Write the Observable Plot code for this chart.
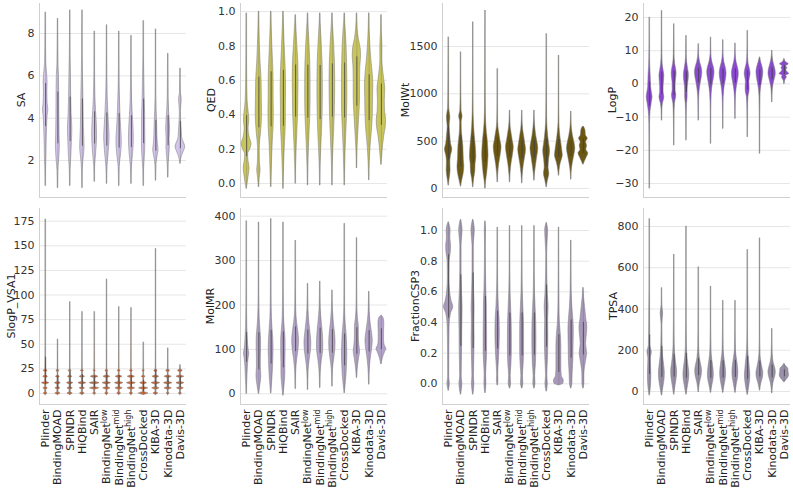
<!DOCTYPE html>
<html><head><meta charset="utf-8">
<script src="https://cdn.jsdelivr.net/npm/d3@7"></script>
<script src="https://cdn.jsdelivr.net/npm/@observablehq/plot@0.6"></script>
<style>
body{margin:0;background:#fff;width:793px;height:489px;position:relative;overflow:hidden;font-family:"DejaVu Sans",sans-serif}
.panel{position:absolute}
</style></head><body>
<div id="c"></div>
<script>
const datasetLabels = ["Plinder","BindingMOAD","SPINDR","HiQBind","SAIR","BindingNet|low","BindingNet|mid","BindingNet|high","CrossDocked","KIBA-3D","Kinodata-3D","Davis-3D"];

// violin profiles: [value, relative half-width]
const saViolins = [
 [[0.8,0.02],[1.5,0.06],[2.2,0.15],[3.0,0.22],[3.6,0.3],[4.1,0.4],[4.4,0.55],[4.7,0.4],[5.2,0.35],[5.7,0.4],[6.1,0.3],[6.6,0.12],[7.5,0.06],[8.5,0.03],[9.0,0.01]],
 [[0.7,0.02],[1.5,0.08],[2.0,0.25],[2.7,0.4],[3.2,0.35],[4.0,0.3],[5.0,0.28],[6.0,0.22],[6.5,0.1],[7.5,0.05],[8.7,0.01]],
 [[0.8,0.02],[1.6,0.08],[2.2,0.25],[2.8,0.35],[3.5,0.45],[4.2,0.3],[5.0,0.22],[6.0,0.15],[7.0,0.06],[8.0,0.03],[9.1,0.01]],
 [[0.7,0.02],[1.6,0.08],[2.2,0.3],[2.6,0.45],[3.0,0.4],[3.6,0.3],[4.4,0.25],[5.2,0.2],[6.0,0.12],[7.0,0.05],[8.0,0.03],[9.1,0.01]],
 [[1.0,0.02],[1.7,0.08],[2.3,0.3],[2.8,0.45],[3.2,0.5],[3.7,0.45],[4.3,0.3],[5.0,0.15],[6.0,0.06],[7.0,0.03],[8.1,0.01]],
 [[0.9,0.02],[1.7,0.1],[2.3,0.35],[2.8,0.5],[3.1,0.55],[3.6,0.45],[4.2,0.3],[5.0,0.15],[6.0,0.06],[7.0,0.03],[8.4,0.01]],
 [[0.8,0.02],[1.7,0.1],[2.3,0.4],[2.9,0.55],[3.4,0.45],[4.0,0.3],[4.8,0.18],[5.6,0.08],[6.5,0.04],[8.1,0.01]],
 [[0.9,0.02],[1.7,0.1],[2.3,0.35],[3.0,0.5],[3.5,0.45],[4.1,0.3],[4.8,0.15],[5.6,0.07],[6.5,0.03],[7.9,0.01]],
 [[0.8,0.02],[1.6,0.08],[2.2,0.25],[2.8,0.35],[3.5,0.33],[4.2,0.3],[5.0,0.2],[6.0,0.12],[7.0,0.05],[8.6,0.01]],
 [[1.05,0.02],[1.8,0.1],[2.2,0.35],[2.5,0.55],[2.8,0.4],[3.2,0.3],[3.7,0.25],[4.3,0.15],[5.0,0.06],[6.0,0.03],[8.2,0.01]],
 [[1.2,0.02],[1.8,0.08],[2.3,0.25],[2.6,0.35],[3.0,0.3],[3.4,0.4],[3.8,0.35],[4.3,0.2],[5.0,0.08],[6.0,0.04],[7.05,0.01]],
 [[1.85,0.03],[2.2,0.3],[2.45,0.75],[2.65,1.0],[2.85,0.7],[3.1,0.35],[3.35,0.3],[3.7,0.2],[4.3,0.1],[4.9,0.28],[5.2,0.08],[5.8,0.04],[6.35,0.01]]
];
const qedViolins = [
 [[-0.03,0.02],[0.0,0.2],[0.05,0.45],[0.09,0.6],[0.13,0.4],[0.17,0.3],[0.2,0.75],[0.23,1.0],[0.27,0.6],[0.32,0.4],[0.37,0.55],[0.42,0.4],[0.48,0.2],[0.6,0.1],[0.8,0.05],[0.99,0.02]],
 [[-0.02,0.02],[0.03,0.15],[0.08,0.35],[0.12,0.2],[0.2,0.15],[0.3,0.45],[0.4,0.65],[0.5,0.6],[0.6,0.55],[0.7,0.35],[0.8,0.2],[0.9,0.1],[1.0,0.02]],
 [[-0.02,0.02],[0.05,0.1],[0.15,0.2],[0.25,0.35],[0.33,0.5],[0.42,0.55],[0.5,0.5],[0.6,0.5],[0.7,0.4],[0.8,0.25],[0.9,0.12],[1.0,0.02]],
 [[-0.03,0.02],[0.05,0.1],[0.15,0.2],[0.25,0.35],[0.35,0.5],[0.45,0.5],[0.55,0.55],[0.65,0.5],[0.75,0.35],[0.85,0.2],[0.93,0.1],[1.0,0.02]],
 [[0.0,0.02],[0.1,0.08],[0.2,0.2],[0.3,0.35],[0.4,0.5],[0.5,0.55],[0.6,0.6],[0.7,0.55],[0.8,0.35],[0.88,0.2],[0.94,0.08],[0.98,0.02]],
 [[-0.01,0.02],[0.1,0.08],[0.2,0.2],[0.3,0.35],[0.4,0.5],[0.5,0.55],[0.6,0.55],[0.7,0.5],[0.8,0.35],[0.88,0.2],[0.94,0.08],[0.99,0.02]],
 [[-0.01,0.02],[0.1,0.08],[0.2,0.22],[0.3,0.38],[0.4,0.5],[0.5,0.55],[0.6,0.55],[0.7,0.5],[0.8,0.35],[0.88,0.2],[0.94,0.08],[0.99,0.02]],
 [[-0.01,0.02],[0.1,0.08],[0.2,0.2],[0.3,0.35],[0.4,0.48],[0.5,0.55],[0.6,0.58],[0.7,0.52],[0.8,0.38],[0.88,0.22],[0.94,0.08],[0.99,0.02]],
 [[-0.01,0.02],[0.1,0.1],[0.2,0.2],[0.3,0.35],[0.4,0.5],[0.5,0.55],[0.6,0.55],[0.7,0.5],[0.8,0.4],[0.88,0.25],[0.94,0.1],[0.99,0.02]],
 [[0.09,0.02],[0.2,0.1],[0.3,0.3],[0.4,0.5],[0.5,0.65],[0.6,0.65],[0.68,0.7],[0.74,0.85],[0.78,0.8],[0.84,0.4],[0.9,0.15],[0.99,0.02]],
 [[0.02,0.02],[0.12,0.1],[0.22,0.3],[0.3,0.55],[0.4,0.75],[0.5,0.8],[0.57,0.85],[0.65,0.7],[0.72,0.45],[0.8,0.25],[0.9,0.08],[0.99,0.02]],
 [[0.11,0.02],[0.17,0.2],[0.22,0.35],[0.28,0.6],[0.33,0.9],[0.37,0.95],[0.42,0.75],[0.48,0.7],[0.55,0.8],[0.6,0.6],[0.66,0.35],[0.72,0.2],[0.8,0.22],[0.88,0.08],[0.98,0.02]]
];
const molWtViolins = [
 [[32,0.02],[100,0.2],[190,0.4],[280,0.35],[350,0.5],[412,0.75],[470,0.5],[550,0.35],[650,0.2],[753,0.35],[850,0.1],[1000,0.06],[1200,0.04],[1598,0.01]],
 [[21,0.02],[80,0.25],[150,0.55],[230,0.7],[300,0.6],[380,0.55],[450,0.5],[520,0.35],[600,0.2],[700,0.15],[760,0.35],[820,0.12],[1000,0.05],[1440,0.01]],
 [[14,0.02],[100,0.2],[180,0.45],[260,0.5],[330,0.65],[400,0.6],[470,0.5],[550,0.35],[650,0.2],[800,0.08],[1000,0.04],[1300,0.02],[1757,0.01]],
 [[0,0.02],[80,0.15],[150,0.35],[230,0.5],[300,0.6],[350,0.65],[420,0.6],[500,0.5],[600,0.3],[700,0.15],[900,0.06],[1200,0.03],[1880,0.01]],
 [[67,0.02],[150,0.1],[250,0.3],[330,0.55],[400,0.75],[440,0.8],[500,0.6],[580,0.35],[650,0.15],[750,0.06],[900,0.03],[1264,0.01]],
 [[67,0.02],[150,0.1],[250,0.3],[330,0.55],[400,0.75],[440,0.8],[500,0.6],[580,0.35],[650,0.15],[750,0.05],[824,0.01]],
 [[56,0.02],[150,0.12],[250,0.35],[330,0.6],[410,0.8],[470,0.65],[540,0.45],[620,0.2],[720,0.06],[824,0.01]],
 [[85,0.02],[160,0.12],[250,0.35],[340,0.6],[420,0.8],[480,0.65],[550,0.4],[630,0.2],[720,0.06],[824,0.01]],
 [[14,0.02],[80,0.25],[155,0.55],[220,0.4],[300,0.5],[400,0.7],[460,0.55],[540,0.35],[620,0.2],[750,0.08],[1000,0.04],[1300,0.02],[1633,0.01]],
 [[137,0.02],[200,0.15],[270,0.4],[320,0.7],[350,0.8],[400,0.7],[460,0.55],[530,0.35],[600,0.2],[700,0.07],[900,0.03],[1404,0.01]],
 [[95,0.02],[180,0.1],[270,0.35],[350,0.65],[420,0.85],[480,0.7],[550,0.4],[630,0.15],[720,0.05],[813,0.01]],
 [[253,0.05],[290,0.35],[330,0.7],[370,1.0],[410,0.6],[450,0.75],[490,0.55],[525,0.9],[565,0.5],[605,0.45],[635,0.3],[655,0.03]]
];
const logPViolins = [
 [[-31.5,0.01],[-20,0.03],[-12,0.06],[-8,0.2],[-5.5,0.45],[-4,0.6],[-2.5,0.45],[-1,0.3],[1,0.25],[3,0.2],[5,0.12],[8,0.06],[12,0.03],[20,0.01]],
 [[-11,0.02],[-8,0.06],[-6,0.2],[-4,0.5],[-2.5,0.35],[-1,0.35],[1,0.45],[2.5,0.5],[4,0.35],[6,0.15],[9,0.06],[14,0.03],[22,0.01]],
 [[-18.5,0.01],[-10,0.05],[-6,0.15],[-3.5,0.45],[-2,0.3],[0,0.3],[2,0.45],[3.2,0.5],[4.5,0.4],[6,0.2],[9,0.06],[13,0.03],[18,0.01]],
 [[-17,0.01],[-10,0.04],[-6,0.12],[-4,0.25],[-2,0.25],[0,0.35],[2,0.5],[3,0.5],[4.5,0.35],[6.5,0.15],[9,0.05],[14.5,0.01]],
 [[-11,0.02],[-5,0.06],[-2,0.2],[0,0.4],[2,0.65],[3.5,0.75],[5,0.6],[6.5,0.3],[8,0.12],[10,0.04],[12,0.01]],
 [[-18,0.01],[-8,0.04],[-3,0.15],[0,0.4],[2,0.65],[3.5,0.75],[5,0.6],[6.5,0.3],[8,0.12],[10,0.04],[14,0.01]],
 [[-13.5,0.01],[-6,0.05],[-2,0.2],[0,0.4],[2,0.65],[3.2,0.7],[4.8,0.55],[6.5,0.25],[8,0.1],[10,0.03],[13.2,0.01]],
 [[-10.5,0.01],[-5,0.06],[-2,0.2],[0,0.4],[2,0.65],[3.2,0.7],[4.8,0.55],[6.5,0.25],[8,0.1],[10,0.03],[12.2,0.01]],
 [[-16,0.01],[-8,0.05],[-4,0.15],[-2,0.4],[-1,0.4],[0.5,0.35],[2,0.5],[3,0.6],[4.5,0.45],[6,0.2],[8,0.08],[11,0.03],[16,0.01]],
 [[-21,0.01],[-10,0.03],[-4,0.08],[-1,0.25],[1,0.5],[2.5,0.65],[3.5,0.7],[5,0.55],[6.5,0.25],[8,0.02]],
 [[-5.5,0.02],[-2,0.1],[0,0.3],[1.5,0.55],[3,0.75],[4,0.7],[5.5,0.45],[7,0.2],[8.5,0.06],[10,0.01]],
 [[0,0.03],[1,0.15],[2,0.5],[2.5,0.35],[3,1.0],[3.6,0.6],[4.2,0.4],[4.7,0.6],[5.3,0.35],[5.9,0.9],[6.5,0.35],[7.5,0.03]]
];
const slogPViolins = [
 [[-1.5,0.02],[-0.6,0.28],[0,0.4],[0.6,0.28],[1.5,0.1],[3.8,0.1],[4.6,0.32],[5.2,0.45],[5.8,0.32],[6.7,0.1],[9,0.12],[9.9,0.52],[10.5,0.75],[11.1,0.52],[12,0.12],[15.5,0.1],[16.4,0.35],[17,0.5],[17.6,0.35],[18.5,0.1],[21.5,0.08],[22.4,0.28],[23,0.4],[23.6,0.28],[24.5,0.08],[30,0.06],[40,0.03],[60,0.02],[177,0.005]],
 [[-1.5,0.02],[-0.6,0.38],[0,0.55],[0.6,0.38],[1.5,0.1],[3.8,0.1],[4.6,0.35],[5.2,0.5],[5.8,0.35],[6.7,0.1],[9,0.1],[9.9,0.42],[10.5,0.6],[11.1,0.42],[12,0.1],[15.5,0.08],[16.4,0.28],[17,0.4],[17.6,0.28],[18.5,0.06],[21.5,0.05],[22.4,0.2],[23,0.3],[23.6,0.2],[24.5,0.04],[30,0.03],[40,0.02],[55,0.005]],
 [[-1.5,0.02],[-0.6,0.38],[0,0.55],[0.6,0.38],[1.5,0.1],[3.8,0.1],[4.6,0.38],[5.2,0.55],[5.8,0.38],[6.7,0.1],[9,0.1],[9.9,0.45],[10.5,0.65],[11.1,0.45],[12,0.1],[15.5,0.08],[16.4,0.32],[17,0.45],[17.6,0.32],[18.5,0.06],[21.5,0.05],[22.4,0.2],[23,0.3],[23.6,0.2],[24.5,0.04],[30,0.03],[45,0.02],[93,0.005]],
 [[-1.5,0.02],[-0.6,0.35],[0,0.5],[0.6,0.35],[1.5,0.1],[3.8,0.1],[4.6,0.38],[5.2,0.55],[5.8,0.38],[6.7,0.1],[9,0.1],[9.9,0.56],[10.5,0.8],[11.1,0.56],[12,0.1],[15.5,0.08],[16.4,0.38],[17,0.55],[17.6,0.38],[18.5,0.06],[21.5,0.05],[22.4,0.2],[23,0.3],[23.6,0.2],[24.5,0.04],[30,0.03],[45,0.02],[83,0.005]],
 [[-1.5,0.02],[-0.6,0.2],[0,0.3],[0.6,0.2],[1.5,0.08],[3.8,0.12],[4.6,0.66],[5.2,0.95],[5.8,0.66],[6.7,0.12],[9,0.12],[9.9,0.7],[10.5,1.0],[11.1,0.7],[12,0.12],[15.5,0.1],[16.4,0.56],[17,0.8],[17.6,0.56],[18.5,0.08],[21.5,0.05],[22.4,0.14],[23,0.2],[23.6,0.14],[24.5,0.04],[30,0.03],[45,0.02],[83,0.005]],
 [[-1.5,0.02],[-0.6,0.25],[0,0.35],[0.6,0.25],[1.5,0.08],[3.8,0.1],[4.6,0.52],[5.2,0.75],[5.8,0.52],[6.7,0.1],[9,0.12],[9.9,0.6],[10.5,0.85],[11.1,0.6],[12,0.12],[15.5,0.1],[16.4,0.5],[17,0.7],[17.6,0.5],[18.5,0.08],[21.5,0.05],[22.4,0.2],[23,0.3],[23.6,0.2],[24.5,0.04],[30,0.03],[45,0.02],[116,0.005]],
 [[-1.5,0.02],[-0.6,0.28],[0,0.4],[0.6,0.28],[1.5,0.08],[3.8,0.1],[4.6,0.52],[5.2,0.75],[5.8,0.52],[6.7,0.1],[9,0.12],[9.9,0.6],[10.5,0.85],[11.1,0.6],[12,0.12],[15.5,0.1],[16.4,0.5],[17,0.7],[17.6,0.5],[18.5,0.08],[21.5,0.05],[22.4,0.2],[23,0.3],[23.6,0.2],[24.5,0.04],[30,0.03],[45,0.02],[88,0.005]],
 [[-1.5,0.02],[-0.6,0.25],[0,0.35],[0.6,0.25],[1.5,0.08],[3.8,0.1],[4.6,0.56],[5.2,0.8],[5.8,0.56],[6.7,0.1],[9,0.12],[9.9,0.63],[10.5,0.9],[11.1,0.63],[12,0.12],[15.5,0.1],[16.4,0.52],[17,0.75],[17.6,0.52],[18.5,0.08],[21.5,0.05],[22.4,0.2],[23,0.3],[23.6,0.2],[24.5,0.04],[30,0.03],[45,0.02],[87,0.005]],
 [[-1.5,0.03],[-0.6,0.7],[0,1.0],[0.6,0.7],[1.5,0.15],[3.8,0.12],[4.6,0.66],[5.2,0.95],[5.8,0.66],[6.7,0.1],[9,0.1],[9.9,0.5],[10.5,0.7],[11.1,0.5],[12,0.08],[15.5,0.06],[16.4,0.28],[17,0.4],[17.6,0.28],[18.5,0.05],[21.5,0.04],[22.4,0.14],[23,0.2],[23.6,0.14],[24.5,0.03],[30,0.02],[52,0.005]],
 [[-1.5,0.02],[-0.6,0.35],[0,0.5],[0.6,0.35],[1.5,0.08],[3.8,0.1],[4.6,0.52],[5.2,0.75],[5.8,0.52],[6.7,0.1],[9,0.12],[9.9,0.6],[10.5,0.85],[11.1,0.6],[12,0.12],[15.5,0.1],[16.4,0.5],[17,0.7],[17.6,0.5],[18.5,0.08],[21.5,0.06],[22.4,0.25],[23,0.35],[23.6,0.25],[24.5,0.05],[30,0.03],[50,0.02],[147,0.005]],
 [[-1.5,0.02],[-0.6,0.2],[0,0.3],[0.6,0.2],[1.5,0.06],[3.8,0.1],[4.6,0.52],[5.2,0.75],[5.8,0.52],[6.7,0.1],[9,0.12],[9.9,0.6],[10.5,0.85],[11.1,0.6],[12,0.12],[15.5,0.1],[16.4,0.52],[17,0.75],[17.6,0.52],[18.5,0.08],[21.5,0.06],[22.4,0.28],[23,0.4],[23.6,0.28],[24.5,0.05],[30,0.03],[46,0.005]],
 [[-1.5,0.02],[-0.6,0.2],[0,0.3],[0.6,0.2],[1.5,0.06],[3.8,0.1],[4.6,0.5],[5.2,0.7],[5.8,0.5],[6.7,0.1],[9,0.12],[9.9,0.56],[10.5,0.8],[11.1,0.56],[12,0.12],[15.5,0.1],[16.4,0.56],[17,0.8],[17.6,0.56],[18.5,0.1],[21.5,0.08],[22.4,0.35],[23,0.5],[23.6,0.35],[24.5,0.06],[27,0.04],[29,0.005]]
];
const molMRViolins = [
 [[0,0.02],[30,0.12],[60,0.25],[80,0.4],[90,0.55],[100,0.4],[120,0.25],[150,0.12],[200,0.05],[250,0.03],[389,0.01]],
 [[0,0.02],[20,0.3],[40,0.5],[60,0.4],[80,0.4],[100,0.45],[120,0.45],[140,0.35],[170,0.15],[220,0.05],[300,0.02],[386,0.01]],
 [[1,0.02],[25,0.2],[50,0.35],[80,0.45],[100,0.5],[120,0.45],[145,0.3],[170,0.15],[220,0.06],[300,0.02],[394,0.01]],
 [[-4,0.02],[20,0.25],[45,0.4],[70,0.4],[95,0.45],[120,0.45],[145,0.3],[175,0.12],[230,0.05],[300,0.02],[386,0.01]],
 [[11,0.02],[50,0.1],[80,0.35],[100,0.6],[120,0.7],[140,0.55],[160,0.3],[190,0.1],[240,0.04],[345,0.01]],
 [[9,0.02],[50,0.12],[75,0.35],[95,0.6],[115,0.7],[135,0.55],[160,0.3],[190,0.1],[220,0.04],[248,0.01]],
 [[13.5,0.02],[50,0.12],[75,0.35],[95,0.6],[110,0.65],[135,0.55],[160,0.35],[190,0.12],[220,0.05],[253,0.01]],
 [[16.5,0.02],[55,0.12],[80,0.4],[100,0.6],[115,0.65],[135,0.55],[160,0.3],[190,0.1],[233,0.01]],
 [[1.5,0.02],[20,0.2],[45,0.4],[70,0.5],[90,0.55],[110,0.5],[135,0.4],[160,0.2],[200,0.06],[280,0.02],[383,0.01]],
 [[36,0.02],[60,0.2],[80,0.45],[95,0.65],[110,0.5],[130,0.4],[150,0.4],[170,0.2],[200,0.06],[260,0.02],[351,0.01]],
 [[21,0.02],[60,0.15],[85,0.4],[105,0.65],[120,0.75],[140,0.55],[160,0.3],[185,0.1],[230,0.01]],
 [[67,0.05],[80,0.3],[95,0.8],[101,1.0],[108,0.7],[120,0.55],[140,0.55],[160,0.6],[170,0.45],[176,0.05]]
];
const fracCSP3Violins = [
 [[-0.045,0.02],[0.0,0.25],[0.04,0.1],[0.2,0.12],[0.38,0.2],[0.46,0.5],[0.5,0.95],[0.54,0.6],[0.6,0.3],[0.7,0.15],[0.8,0.2],[0.86,0.45],[0.9,0.5],[0.95,0.35],[1.0,0.4],[1.054,0.02]],
 [[-0.07,0.02],[0.0,0.3],[0.05,0.15],[0.15,0.2],[0.25,0.25],[0.35,0.28],[0.5,0.35],[0.6,0.22],[0.75,0.12],[0.9,0.12],[1.0,0.35],[1.07,0.02]],
 [[-0.07,0.02],[0.0,0.25],[0.05,0.15],[0.15,0.22],[0.3,0.3],[0.4,0.25],[0.5,0.3],[0.6,0.2],[0.75,0.12],[0.9,0.12],[1.0,0.35],[1.07,0.02]],
 [[-0.06,0.02],[0.0,0.2],[0.06,0.15],[0.2,0.35],[0.33,0.35],[0.45,0.3],[0.5,0.3],[0.6,0.2],[0.75,0.1],[0.9,0.07],[1.0,0.12],[1.06,0.01]],
 [[-0.01,0.02],[0.02,0.15],[0.06,0.1],[0.15,0.25],[0.25,0.4],[0.33,0.45],[0.42,0.4],[0.5,0.25],[0.6,0.12],[0.75,0.05],[0.9,0.03],[1.02,0.01]],
 [[-0.03,0.02],[0.0,0.25],[0.05,0.15],[0.12,0.3],[0.22,0.4],[0.32,0.4],[0.42,0.35],[0.5,0.25],[0.6,0.12],[0.75,0.05],[0.9,0.03],[1.03,0.01]],
 [[-0.03,0.02],[0.0,0.25],[0.05,0.15],[0.12,0.3],[0.22,0.4],[0.3,0.4],[0.4,0.38],[0.5,0.25],[0.6,0.12],[0.75,0.05],[0.9,0.03],[1.03,0.01]],
 [[-0.03,0.02],[0.0,0.22],[0.05,0.15],[0.12,0.3],[0.22,0.4],[0.3,0.42],[0.4,0.38],[0.5,0.25],[0.6,0.12],[0.75,0.05],[0.9,0.03],[1.03,0.01]],
 [[-0.05,0.02],[0.0,0.25],[0.05,0.12],[0.15,0.25],[0.3,0.35],[0.42,0.3],[0.5,0.4],[0.58,0.25],[0.7,0.12],[0.85,0.08],[1.0,0.3],[1.05,0.01]],
 [[-0.01,0.05],[0.0,0.9],[0.02,1.0],[0.05,0.6],[0.1,0.5],[0.18,0.5],[0.25,0.5],[0.32,0.4],[0.4,0.2],[0.5,0.1],[0.7,0.04],[1.02,0.01]],
 [[-0.03,0.02],[0.0,0.25],[0.06,0.3],[0.15,0.45],[0.25,0.5],[0.35,0.55],[0.42,0.45],[0.5,0.25],[0.6,0.1],[0.75,0.04],[0.935,0.01]],
 [[-0.03,0.02],[0.0,0.2],[0.05,0.2],[0.1,0.3],[0.15,0.55],[0.2,0.75],[0.26,0.55],[0.32,0.7],[0.37,0.8],[0.42,0.6],[0.5,0.35],[0.56,0.15],[0.626,0.02]]
];
const tpsaViolins = [
 [[-19,0.02],[0,0.15],[40,0.3],[80,0.35],[120,0.3],[160,0.25],[190,0.45],[220,0.15],[300,0.1],[400,0.08],[500,0.03],[837,0.01]],
 [[-19,0.02],[20,0.3],[60,0.55],[90,0.6],[130,0.45],[170,0.25],[240,0.1],[320,0.06],[380,0.25],[420,0.05],[502,0.01]],
 [[-15,0.02],[30,0.3],[70,0.55],[100,0.6],[130,0.45],[170,0.25],[230,0.1],[350,0.04],[500,0.02],[664,0.01]],
 [[-15,0.02],[30,0.35],[60,0.55],[85,0.6],[120,0.45],[160,0.25],[220,0.1],[350,0.04],[500,0.02],[800,0.01]],
 [[-3,0.02],[40,0.25],[75,0.6],[100,0.7],[125,0.55],[160,0.25],[220,0.08],[350,0.03],[603,0.01]],
 [[-6,0.02],[30,0.3],[60,0.55],[85,0.6],[115,0.5],[150,0.3],[200,0.1],[300,0.03],[509,0.01]],
 [[-6,0.02],[30,0.3],[65,0.55],[90,0.6],[120,0.5],[155,0.3],[200,0.1],[300,0.03],[440,0.01]],
 [[-6,0.02],[35,0.3],[70,0.55],[95,0.6],[125,0.5],[160,0.3],[200,0.1],[300,0.03],[440,0.01]],
 [[-16,0.02],[20,0.3],[55,0.5],[80,0.55],[110,0.45],[150,0.3],[200,0.12],[300,0.04],[450,0.02],[687,0.01]],
 [[5,0.02],[40,0.3],[70,0.65],[90,0.7],[110,0.55],[140,0.3],[180,0.1],[250,0.03],[400,0.02],[743,0.01]],
 [[-8,0.02],[40,0.25],[75,0.65],[95,0.75],[115,0.6],[140,0.3],[180,0.1],[240,0.03],[304,0.01]],
 [[45,0.05],[55,0.4],[65,0.75],[80,0.95],[95,0.85],[110,0.8],[120,0.45],[128,0.15],[134,0.02]]
];

const saTicks = [2,4,6,8];
const qedTicks = [0,0.2,0.4,0.6,0.8,1.0];
const molWtTicks = [0,500,1000,1500];
const logPTicks = [-30,-20,-10,0,10,20];
const slogPTicks = [0,25,50,75,100,125,150,175];
const molMRTicks = [0,100,200,300,400];
const fracTicks = [0,0.2,0.4,0.6,0.8,1.0];
const tpsaTicks = [0,200,400,600,800];

const panels = [
 {label:"SA", profiles:saViolins, ticks:saTicks, domain:[0.25,9.42], fill:"#d3c4eb", fmt:d=>String(d), row:0, col:0, lx:21},
 {label:"QED", profiles:qedViolins, ticks:qedTicks, domain:[-0.081,1.047], fill:"#c9c55b", fmt:d=>d.toFixed(1), row:0, col:1, lx:211},
 {label:"MolWt", profiles:molWtViolins, ticks:molWtTicks, domain:[-95,1954], fill:"#6b560f", fmt:d=>String(d), row:0, col:2, lx:405},
 {label:"LogP", profiles:logPViolins, ticks:logPTicks, domain:[-34.2,24.2], fill:"#8b48d4", fmt:d=>(d<0?"\u2212"+(-d):String(d)), row:0, col:3, lx:612},
 {label:"SlogP_VSA1", profiles:slogPViolins, ticks:slogPTicks, domain:[-11.2,187.9], fill:"#c86838", fmt:d=>String(d), row:1, col:0, lx:11},
 {label:"MolMR", profiles:molMRViolins, ticks:molMRTicks, domain:[-24.1,417.3], fill:"#b3a2c9", fmt:d=>String(d), row:1, col:1, lx:210},
 {label:"FractionCSP3", profiles:fracCSP3Violins, ticks:fracTicks, domain:[-0.135,1.1435], fill:"#a898ba", fmt:d=>d.toFixed(1), row:1, col:2, lx:415},
 {label:"TPSA", profiles:tpsaViolins, ticks:tpsaTicks, domain:[-63,887], fill:"#9a90aa", fmt:d=>String(d), row:1, col:3, lx:613}
];

// spine x of each column and the left margin used for it
const colSpine = [39, 240, 442, 643];
const colMargin = [39, 49, 49, 49];
const rowTop = [0, 205];

function quantileOf(prof, q){
  const cum=[0];
  for(let k=1;k<prof.length;k++) cum.push(cum[k-1]+(prof[k][0]-prof[k-1][0])*(prof[k][1]+prof[k-1][1])/2);
  const total=cum[cum.length-1], t=q*total;
  for(let k=1;k<prof.length;k++) if(cum[k]>=t){const f=(t-cum[k-1])/((cum[k]-cum[k-1])||1);return prof[k-1][0]+f*(prof[k][0]-prof[k-1][0]);}
  return prof[prof.length-1][0];
}

const SVGNS="http://www.w3.org/2000/svg";
const container = document.getElementById("c");
panels.forEach(p=>{
  const rows=[];
  p.profiles.forEach((prof,i)=>prof.forEach(([y,w])=>rows.push({i,y,w})));
  const stats=p.profiles.map((prof,i)=>({i,min:prof[0][0],max:prof[prof.length-1][0],q1:quantileOf(prof,0.25),q3:quantileOf(prof,0.75)}));
  const bottom=p.row===1;
  const h = bottom?284:200;
  const mt=3, mb=bottom?85:3;
  const ml=colMargin[p.col];
  const left=colSpine[p.col]-ml;
  const marks=[
    Plot.gridY(p.ticks,{stroke:"#e6e6e6",strokeOpacity:1}),
    Plot.ruleX([-0.5],{stroke:"#d0d0d0"}),
    Plot.ruleY([p.domain[0]],{stroke:"#d0d0d0"}),
    Plot.areaX(rows,{y:"y",x1:d=>d.i-0.4*d.w,x2:d=>d.i+0.4*d.w,z:"i",fill:p.fill,stroke:"#7a7a7a",strokeWidth:0.6,strokeOpacity:0.85,curve:"monotone-y"}),
    Plot.ruleX(stats,{x:"i",y1:"min",y2:"max",stroke:"#666",strokeWidth:0.5,strokeOpacity:0.6}),
    Plot.ruleX(stats,{x:"i",y1:"q1",y2:"q3",stroke:"#3a3a3a",strokeWidth:1,strokeOpacity:0.7}),
    Plot.axisY(p.ticks,{tickSize:0,tickPadding:5,tickFormat:p.fmt,label:null,fill:"#333",fontSize:11})
  ];
  if(bottom) marks.push(Plot.axisX(d3.range(12),{tickSize:0,tickPadding:5,tickRotate:-90,tickFormat:i=>datasetLabels[i],label:null,fill:"#222",fontSize:11}));
  const svg=Plot.plot({
    width:ml+150,height:h,marginLeft:ml,marginRight:3,marginTop:mt,marginBottom:mb,
    style:{fontFamily:"DejaVu Sans",fontSize:"11px",color:"#333",background:"transparent"},
    x:{domain:[-0.5,11.5],axis:null},
    y:{domain:p.domain,axis:null},
    marks
  });
  svg.querySelectorAll("text").forEach(t=>{
    const s=t.textContent;
    if(s.includes("|")){
      const [base,sup]=s.split("|");
      while(t.firstChild) t.removeChild(t.firstChild);
      t.appendChild(document.createTextNode(base));
      const ts=document.createElementNS(SVGNS,"tspan");
      ts.setAttribute("dy","-0.45em");ts.setAttribute("font-size","8px");
      ts.textContent=sup;t.appendChild(ts);
    }
  });
  // y-axis title
  const cy=(mt+(h-mb))/2;
  const lx=p.lx-left;
  const lab=document.createElementNS(SVGNS,"text");
  lab.setAttribute("x",lx);lab.setAttribute("y",cy);
  lab.setAttribute("transform",`rotate(-90 ${lx} ${cy})`);
  lab.setAttribute("text-anchor","middle");lab.setAttribute("dominant-baseline","central");
  lab.setAttribute("font-size","11");lab.setAttribute("fill","#222");lab.setAttribute("font-family","DejaVu Sans");
  lab.textContent=p.label;
  svg.appendChild(lab);
  const div=document.createElement("div");
  div.className="panel";div.style.left=left+"px";div.style.top=rowTop[p.row]+"px";
  div.appendChild(svg);container.appendChild(div);
});
</script></body></html>
